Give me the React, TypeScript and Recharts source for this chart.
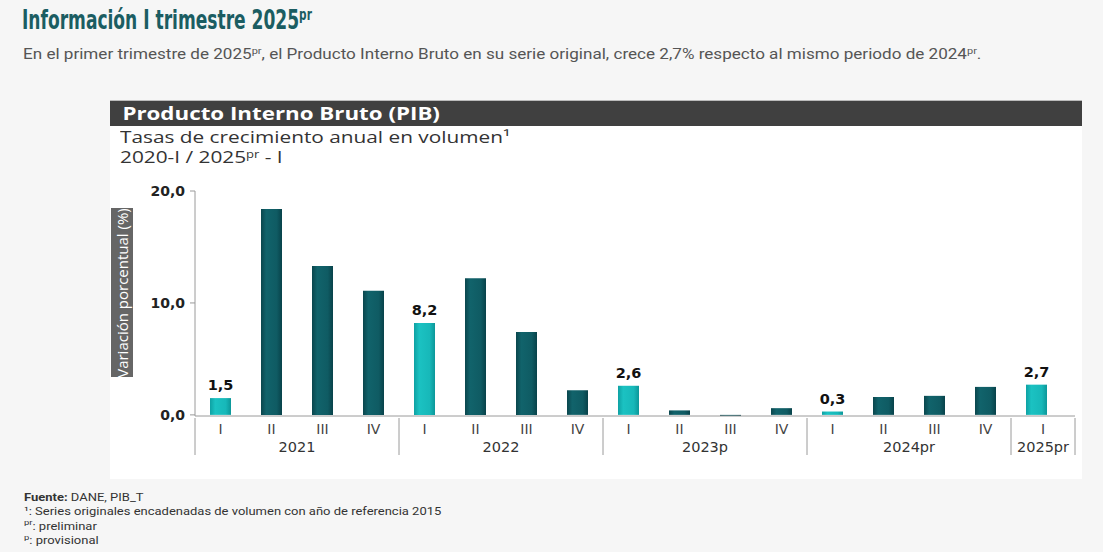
import { BarChart, Bar, XAxis, YAxis, Cell, LabelList } from "recharts";

// Tasas de crecimiento anual del PIB, por trimestre
const quarterLabels = ["I", "II", "III", "IV", "I", "II", "III", "IV", "I", "II", "III", "IV", "I", "II", "III", "IV", "I"];
const yearLabels = ["2021", "2022", "2023p", "2024pr", "2025pr"];
const quartersPerYear = [4, 4, 4, 4, 1];
const growth = [1.5, 18.4, 13.3, 11.1, 8.2, 12.2, 7.4, 2.2, 2.6, 0.4, -0.1, 0.6, 0.3, 1.6, 1.7, 2.5, 2.7];
const yTicks = [0, 10, 20];

const fmt = (v: number) => v.toFixed(1).replace(".", ",");

// year of each bar + whether it starts its group
const yearOf: string[] = [];
const groupStart: boolean[] = [];
yearLabels.forEach((y, gi) => {
  for (let k = 0; k < quartersPerYear[gi]; k++) {
    yearOf.push(y);
    groupStart.push(k === 0);
  }
});

const data = growth.map((v, i) => ({
  key: `${yearOf[i]}-${quarterLabels[i]}`,
  q: quarterLabels[i],
  year: yearOf[i],
  value: v,
  label: quarterLabels[i] === "I" ? fmt(v) : "",
}));

const BAND = 51;
const PAD_RIGHT = 13;
const AXIS_GRAY = "#9a9a9a";
const TICK_FONT = "'DejaVu Sans', Verdana, sans-serif";

// small raised text that doesn't push the line height
const Sup = ({ children, size }: { children: any; size: number }) => (
  <span style={{ fontSize: size, position: "relative", top: -size * 0.55, lineHeight: 0 }}>{children}</span>
);

function QuarterTick(props: any) {
  const { x, y, index } = props;
  const row = data[index];
  if (!row) return null;
  const g = yearLabels.indexOf(row.year);
  const size = quartersPerYear[g];
  const firstIdx = quartersPerYear.slice(0, g).reduce((a, b) => a + b, 0);
  const posInGroup = index - firstIdx;
  const isLast = index === data.length - 1;
  let yearX: number | null = null;
  if (size === 1) yearX = x + PAD_RIGHT / 2;
  else if (posInGroup === Math.floor(size / 2) - 1) yearX = x + BAND / 2;
  return (
    <g>
      {groupStart[index] && (
        <line x1={x - BAND / 2} x2={x - BAND / 2} y1={y} y2={y + 37} stroke={AXIS_GRAY} strokeWidth={1} />
      )}
      {isLast && (
        <line x1={x + BAND / 2 + PAD_RIGHT} x2={x + BAND / 2 + PAD_RIGHT} y1={y} y2={y + 37} stroke={AXIS_GRAY} strokeWidth={1} />
      )}
      <text x={x + (isLast ? PAD_RIGHT / 2 : 0)} y={y + 16} textAnchor="middle" fontSize={14} fill="#444" fontFamily={TICK_FONT}>
        {row.q}
      </text>
      {yearX !== null && (
        <text x={yearX} y={y + 34} textAnchor="middle" fontSize={14.5} fill="#333" fontFamily={TICK_FONT}>
          {row.year}
        </text>
      )}
    </g>
  );
}

function ValueLabel(props: any) {
  const { x, y, width, value } = props;
  if (!value) return null;
  return (
    <text x={x + width / 2} y={y - 8} textAnchor="middle" fontSize={14.5} fontWeight="bold" fill="#111" fontFamily={TICK_FONT}>
      {value}
    </text>
  );
}

export default function App() {
  return (
    <div
      style={{
        position: "absolute",
        left: 0,
        top: 0,
        width: 1103,
        height: 552,
        background: "#f6f6f6",
        fontFamily: "Roboto, sans-serif",
        overflow: "hidden",
      }}
    >
      <div
        style={{
          position: "absolute",
          left: 22,
          top: 5,
          fontFamily: "'Liberation Sans Narrow', 'DejaVu Sans Condensed', sans-serif",
          fontWeight: "bold",
          fontSize: 26,
          lineHeight: "30px",
          color: "#1b5d62",
          whiteSpace: "nowrap",
          transform: "scaleX(0.73)",
          transformOrigin: "left center",
        }}
      >
        Información I trimestre 2025<Sup size={16}>pr</Sup>
      </div>
      <div
        style={{
          position: "absolute",
          left: 23,
          top: 45,
          fontSize: 14,
          lineHeight: "18px",
          color: "#555",
          whiteSpace: "nowrap",
          transform: "scaleX(1.22)",
          transformOrigin: "left center",
        }}
      >
        En el primer trimestre de 2025<Sup size={9}>pr</Sup>, el Producto Interno Bruto en su serie original, crece 2,7%
        respecto al mismo periodo de 2024<Sup size={9}>pr</Sup>.
      </div>

      <div
        style={{
          position: "absolute",
          left: 110,
          top: 100,
          width: 972,
          height: 379,
          background: "#fff",
        }}
      >
        <div
          style={{
            height: 26,
            background: "#404040",
            borderTop: "1px solid #bbb",
            boxSizing: "border-box",
          }}
        >
          <div
            style={{
              color: "#fff",
              fontFamily: "'Open Sans', sans-serif",
              fontWeight: "bold",
              fontSize: 18,
              lineHeight: "24px",
              paddingLeft: 10,
              whiteSpace: "nowrap",
              transform: "scaleX(1.24)",
              transformOrigin: "left center",
            }}
          >
            Producto Interno Bruto (PIB)
          </div>
        </div>
        <div
          style={{
            position: "absolute",
            left: 10,
            top: 27,
            fontFamily: "'Open Sans', sans-serif",
            fontSize: 16,
            lineHeight: "20px",
            color: "#333",
            whiteSpace: "nowrap",
            transform: "scaleX(1.3)",
            transformOrigin: "left center",
          }}
        >
          <div>Tasas de crecimiento anual en volumen¹</div>
          <div>
            2020-I / 2025<Sup size={10}>pr</Sup> - I
          </div>
        </div>
        <div
          style={{
            position: "absolute",
            left: 1,
            top: 108,
            width: 22,
            height: 169,
            background: "#666",
          }}
        >
          <div
            style={{
              position: "absolute",
              left: 11,
              top: 84.5,
              transform: "translate(-50%, -50%) rotate(-90deg)",
              color: "#fff",
              fontFamily: "'Open Sans', sans-serif",
              fontSize: 15,
              whiteSpace: "nowrap",
            }}
          >
            Variación porcentual (%)
          </div>
        </div>

        <div style={{ position: "absolute", left: 0, top: 26 }}>
          <BarChart width={972} height={353} data={data} margin={{ top: 65, right: 7, bottom: 23, left: 0 }}>
            <defs>
              <linearGradient id="gradDark" x1="0" y1="0" x2="1" y2="0">
                <stop offset="0%" stopColor="#0a464d" />
                <stop offset="25%" stopColor="#11636b" />
                <stop offset="75%" stopColor="#0f5b63" />
                <stop offset="100%" stopColor="#08424a" />
              </linearGradient>
              <linearGradient id="gradLight" x1="0" y1="0" x2="1" y2="0">
                <stop offset="0%" stopColor="#0ea1a3" />
                <stop offset="25%" stopColor="#1bc2c2" />
                <stop offset="75%" stopColor="#17b8b9" />
                <stop offset="100%" stopColor="#0c9799" />
              </linearGradient>
            </defs>
            <XAxis
              dataKey="key"
              height={40}
              interval={0}
              tickLine={false}
              tickSize={0}
              padding={{ left: 0, right: PAD_RIGHT }}
              axisLine={{ stroke: AXIS_GRAY }}
              tick={<QuarterTick />}
            />
            <YAxis
              width={85}
              domain={[-0.1, 20]}
              ticks={yTicks}
              tickFormatter={fmt}
              tickSize={5}
              tickMargin={5}
              axisLine={{ stroke: AXIS_GRAY }}
              tickLine={{ stroke: AXIS_GRAY }}
              tick={{ fill: "#222", fontSize: 14, fontWeight: "bold", fontFamily: TICK_FONT }}
            />
            <Bar dataKey="value" barSize={21} isAnimationActive={false}>
              {data.map((d) => (
                <Cell key={d.key} fill={d.q === "I" ? "url(#gradLight)" : "url(#gradDark)"} />
              ))}
              <LabelList dataKey="label" content={<ValueLabel />} />
            </Bar>
          </BarChart>
        </div>
      </div>

      <div
        style={{
          position: "absolute",
          left: 24,
          top: 491,
          fontSize: 11,
          lineHeight: "14.3px",
          color: "#333",
          whiteSpace: "nowrap",
          transform: "scaleX(1.18)",
          transformOrigin: "left center",
        }}
      >
        <div>
          <b>Fuente:</b> DANE, PIB_T
        </div>
        <div>¹: Series originales encadenadas de volumen con año de referencia 2015</div>
        <div>
          <Sup size={8}>pr</Sup>: preliminar
        </div>
        <div>
          <Sup size={8}>p</Sup>: provisional
        </div>
      </div>
    </div>
  );
}
